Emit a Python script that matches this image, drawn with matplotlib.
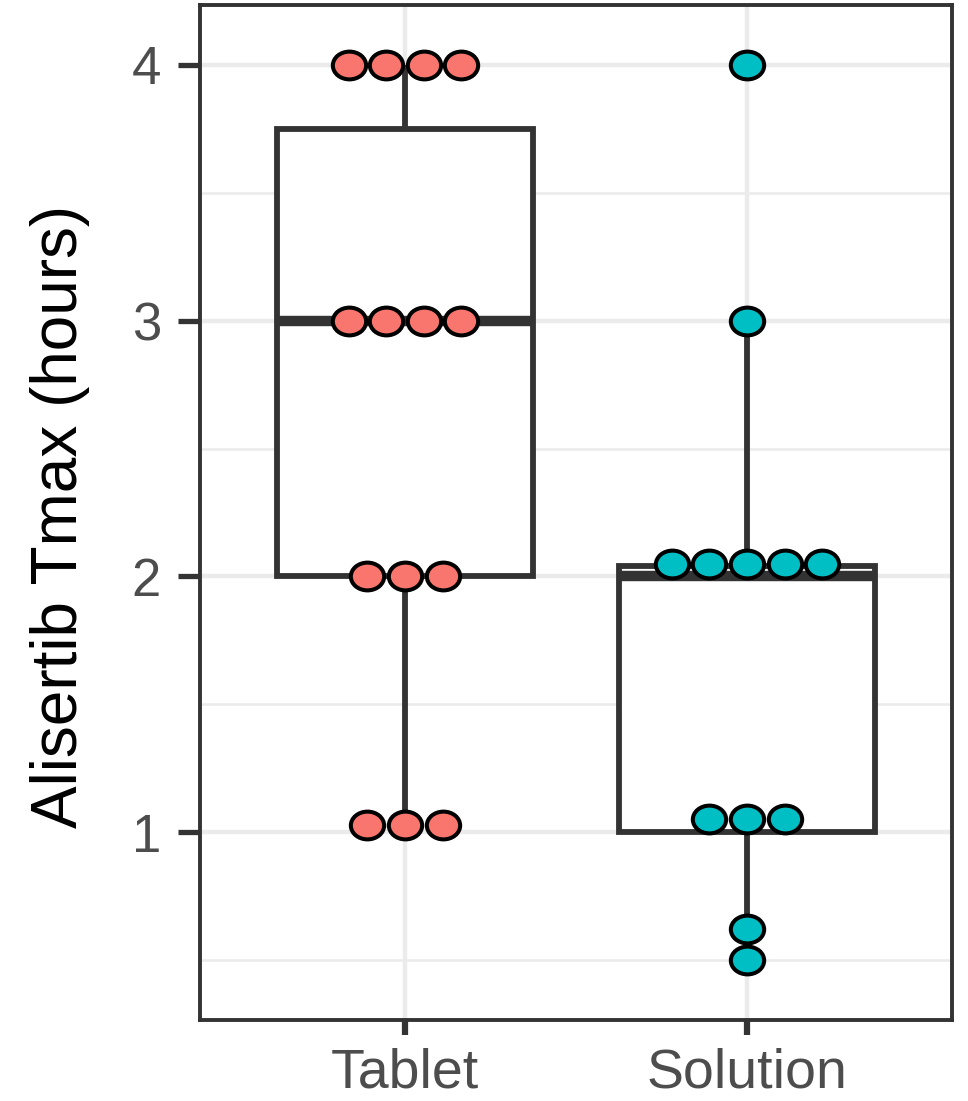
import matplotlib
matplotlib.use("Agg")
import matplotlib.pyplot as plt
from matplotlib.markers import MarkerStyle
from matplotlib.transforms import Affine2D
import numpy as np

# ---- data ----
categories = ["Tablet", "Solution"]
fill_colors = ["#F8766D", "#00BFC4"]

# dot levels (hours) and how many dots stacked at each level
tablet_levels = [4.0, 3.0, 2.0, 1.03]
tablet_counts = [4, 4, 3, 3]
solution_levels = [4.0, 3.0, 2.05, 1.05, 0.62, 0.5]
solution_counts = [1, 1, 5, 3, 1, 1]

# box statistics: lower whisker, q1, median, q3, upper whisker
tablet_box = [1.03, 2.0, 3.0, 3.75, 4.0]
solution_box = [0.5, 1.0, 2.0, 2.04, 3.0]

y_major = [1, 2, 3, 4]
y_minor = [0.5, 1.5, 2.5, 3.5]
y_label = "Alisertib Tmax (hours)"

# ---- figure ----
plt.rcParams['font.family'] = ['Liberation Sans', 'DejaVu Sans']
fig = plt.figure(figsize=(9.68, 11.01), dpi=100)
ax = fig.add_axes([200/968, 1 - 1020/1101, 752/968, 1015/1101])

dark = "#333333"
grid_c = "#EBEBEB"
positions = [1, 2]

stats = []
for name, b in zip(categories, [tablet_box, solution_box]):
    stats.append(dict(label=name, whislo=b[0], q1=b[1], med=b[2], q3=b[3], whishi=b[4]))

ax.bxp(stats, positions=positions, widths=0.75, showcaps=False, showfliers=False,
       patch_artist=True,
       boxprops=dict(facecolor="white", edgecolor=dark, linewidth=4.2),
       whiskerprops=dict(color=dark, linewidth=4.2, solid_capstyle="butt"),
       medianprops=dict(color=dark, linewidth=7.5, solid_capstyle="butt"),
       zorder=2)

mk = MarkerStyle('o', transform=Affine2D().scale(1.2, 1.0))
spacing = 0.11
for pos, levels, counts, col in zip(positions, [tablet_levels, solution_levels],
                                     [tablet_counts, solution_counts], fill_colors):
    for lev, n in zip(levels, counts):
        xs = pos + (np.arange(n) - (n - 1) / 2) * spacing
        ax.plot(xs, [lev] * n, linestyle="none", marker=mk, markersize=20,
                markerfacecolor=col, markeredgecolor="black", markeredgewidth=2.9,
                zorder=4)

ax.set_xlim(0.4, 2.6)
ax.set_ylim(0.266, 4.234)
ax.set_xticks(positions)
ax.set_xticklabels(categories)
ax.set_yticks(y_major)
ax.set_yticklabels([str(v) for v in y_major])
ax.set_yticks(y_minor, minor=True)

ax.grid(True, which="major", color=grid_c, linewidth=3.2, zorder=0)
ax.grid(True, which="minor", axis="y", color=grid_c, linewidth=1.8, zorder=0)
ax.set_axisbelow(True)

for s in ax.spines.values():
    s.set_color(dark)
    s.set_linewidth(2.8)

ax.tick_params(axis="y", which="major", length=16, width=3.8, color=dark,
               labelsize=38, labelcolor="#4D4D4D", pad=12)
ax.tick_params(axis="x", which="major", length=11, width=4.5, color=dark,
               labelsize=40, labelcolor="#4D4D4D", pad=9)
ax.tick_params(axis="y", which="minor", length=0)

ax.set_ylabel(y_label, fontsize=46, color="black")
ax.yaxis.set_label_coords((90 - 200) / 752, (1020 - 516) / 1015)

fig.savefig("out.png", dpi=100, facecolor="white")
